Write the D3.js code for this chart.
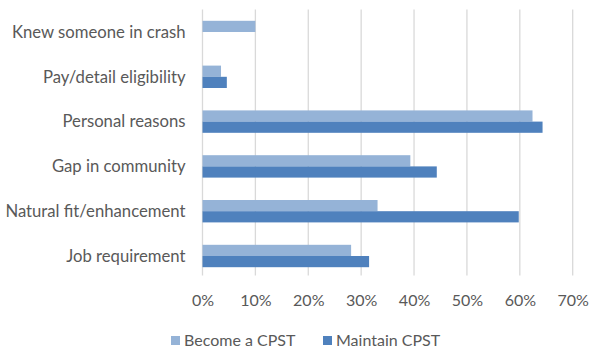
<!DOCTYPE html>
<html>
<head>
<meta charset="utf-8">
<script src="https://cdn.jsdelivr.net/npm/d3@7"></script>
<style>
  html, body { margin: 0; padding: 0; background: #fff; }
  svg { display: block; font-family: Lato, "Open Sans", sans-serif; }
</style>
</head>
<body>
<svg id="chart" width="599" height="360"></svg>
<script>
const categories = ["Knew someone in crash", "Pay/detail eligibility", "Personal reasons", "Gap in community", "Natural fit/enhancement", "Job requirement"];
const becomeValues = [10, 3.5, 62.4, 39.3, 33.1, 28.1];
const maintainValues = [null, 4.6, 64.3, 44.3, 59.8, 31.5];
const seriesNames = ["Become a CPST", "Maintain CPST"];
const seriesColors = ["#95b3d7", "#4f81bd"];
const tickValues = [0, 10, 20, 30, 40, 50, 60, 70];

const svg = d3.select("#chart");
const plot = { left: 202.5, right: 572.7, top: 9.6, bottom: 278.4 };

const x = d3.scaleLinear().domain([0, 70]).range([plot.left, plot.right]);
const y = d3.scaleBand().domain(categories).range([plot.top, plot.bottom]).paddingInner(0.5).paddingOuter(0.25);
const ySub = d3.scaleBand().domain(seriesNames).range([0, y.bandwidth()]);

// gridlines
svg.append("g")
  .selectAll("line")
  .data(tickValues)
  .join("line")
  .attr("x1", d => x(d)).attr("x2", d => x(d))
  .attr("y1", plot.top).attr("y2", plot.bottom - 3)
  .attr("stroke", "#d9d9d9").attr("stroke-width", 1.3);

// x axis labels
const xAxis = d3.axisBottom(x).tickValues(tickValues).tickFormat(d => d + "%").tickSize(0).tickPadding(0);
const gx = svg.append("g").attr("transform", `translate(0, ${plot.bottom})`).call(xAxis);
gx.select(".domain").remove();
gx.selectAll("text").attr("dy", null).attr("y", 27.5).attr("fill", "#595959").attr("font-size", "16px").attr("font-family", "Lato, sans-serif");

// y axis labels
const yAxis = d3.axisLeft(y).tickSize(0).tickPadding(17);
const gy = svg.append("g").attr("transform", `translate(${plot.left}, 0)`).call(yAxis);
gy.select(".domain").remove();
gy.selectAll("text").attr("fill", "#595959").attr("font-size", "16.7px").attr("font-family", "Lato, sans-serif").attr("dy", "0.35em");

// bars
const seriesData = [becomeValues, maintainValues];
seriesData.forEach((vals, si) => {
  svg.append("g")
    .selectAll("rect")
    .data(categories.map((c, i) => ({ c, v: vals[i] })).filter(d => d.v != null))
    .join("rect")
    .attr("x", x(0))
    .attr("y", d => y(d.c) + ySub(seriesNames[si]))
    .attr("width", d => x(d.v) - x(0))
    .attr("height", ySub.bandwidth())
    .attr("fill", seriesColors[si]);
});

// legend
const legendItems = [{ name: seriesNames[0], color: seriesColors[0], x: 171 }, { name: seriesNames[1], color: seriesColors[1], x: 323 }];
const lg = svg.append("g");
legendItems.forEach(it => {
  lg.append("rect").attr("x", it.x).attr("y", 336).attr("width", 9).attr("height", 9).attr("fill", it.color);
  lg.append("text").attr("x", it.x + 13).attr("y", 346).attr("fill", "#595959").attr("font-size", "16px").text(it.name);
});
</script>
</body>
</html>
